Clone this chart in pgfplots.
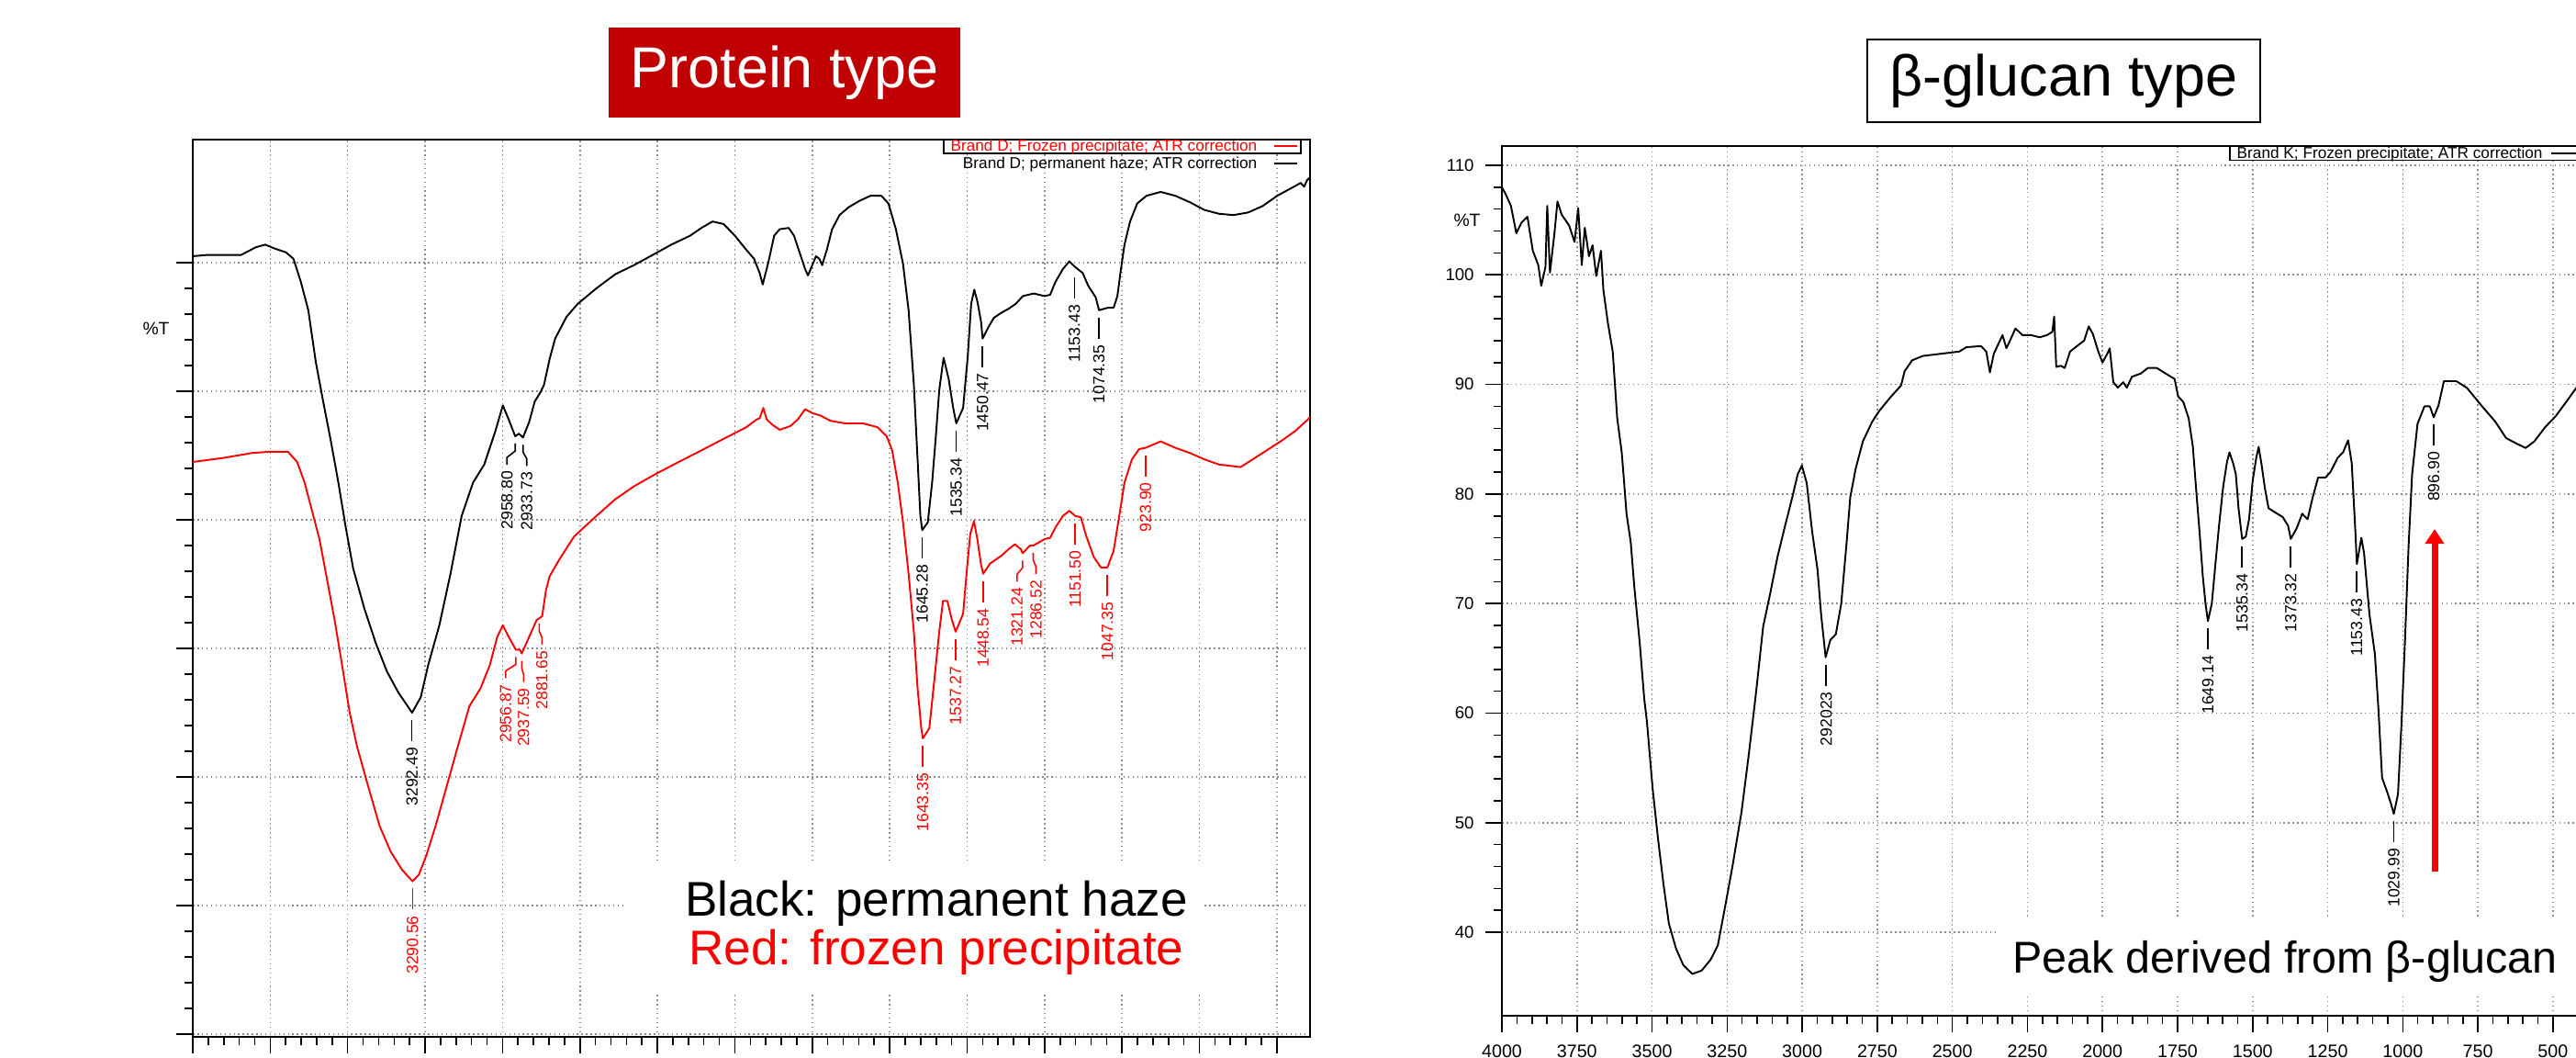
\documentclass[border=0pt]{standalone}
\usepackage{fontspec}
\setmainfont{Liberation Sans}
\usepackage{pgfplots}
\pgfplotsset{compat=1.18}
\usetikzlibrary{arrows.meta}

\definecolor{boxred}{RGB}{192,0,0}
\definecolor{gridgray}{RGB}{140,140,140}

\newcommand{\pkfont}{\fontsize{5pt}{6pt}\selectfont}
\newcommand{\lgfont}{\fontsize{4.9pt}{6pt}\selectfont}
% peak label: wavenumber, value, sideways shift, colour, text
\newcommand{\pk}[5]{%
  \draw[#4, line width=0.45pt] (axis cs:#1,#2) ++(0pt,-0.08cm) -- ++(0pt,-0.08cm)
    -- ++(#3,-0.07cm) -- ++(0pt,-0.08cm)
    node[rotate=90, anchor=east, inner sep=0.06cm, font=\pkfont, text=#4] {#5};}

\pgfplotsset{
  irbase/.style={
    scale only axis, x dir=reverse, xmax=4000,
    axis line style={line width=0.6pt},
    tick align=outside, xtick pos=bottom, ytick pos=left,
    major tick length=0.18cm, minor tick length=0.09cm,
    tick style={black, line width=0.45pt},
    grid=major, major grid style={gridgray, densely dotted, line width=0.45pt},
    xtick={500,750,...,4000}, minor x tick num=4, minor y tick num=4,
    /pgf/number format/assume math mode=true,
    /pgf/number format/1000 sep={},
    every axis plot/.append style={line width=0.55pt, line join=round, mark=none},
  }}

\begin{document}
\begin{tikzpicture}
\useasboundingbox (0,0) rectangle (28.06,-11.52);
\clip (0,0) rectangle (28.06,-11.52);

% ---------------- protein type ----------------
\begin{axis}[irbase, at={(2.10cm,-11.29cm)}, anchor=south west,
  width=12.17cm, height=9.77cm, xmin=393, ymin=-0.21, ymax=69.57,
  ytick={0,10,...,60}, yticklabels={},
  xticklabel style={font=\fontsize{5.6pt}{6pt}\selectfont, yshift=0.06cm}]
\addplot[black] coordinates {
(4000,60.5) (3953,60.6) (3905,60.6) (3844,60.6) (3796,61.2) (3766,61.4) (3736,61.1) (3699,60.8) (3675,60.3)
(3651,58.5) (3627,56.3) (3603,52.3) (3579,49.2) (3554,46.1) (3530,42.9) (3506,39.4) (3482,36.2) (3446,33.1)
(3409,30.4) (3373,28.2) (3337,26.6) (3292,25.0) (3264,26.2) (3240,28.7) (3204,31.8) (3168,35.8) (3132,40.3)
(3095,42.9) (3059,44.3) (3023,46.9) (2999,48.9) (2980,47.8) (2959,46.5) (2947,46.7) (2934,46.4) (2914,47.6)
(2896,49.2) (2878,49.9) (2866,50.5) (2848,52.5) (2830,54.1) (2793,55.8) (2757,56.8) (2697,58.0) (2636,59.1)
(2576,59.8) (2515,60.6) (2455,61.4) (2394,62.1) (2358,62.7) (2322,63.2) (2286,63.0) (2250,62.1) (2213,61.0)
(2188,60.3) (2170,59.2) (2160,58.3) (2141,60.1) (2123,62.1) (2105,62.6) (2076,62.7) (2059,62.1) (2041,60.8)
(2023,59.5) (2014,59.0) (2000,59.8) (1988,60.5) (1977,60.3) (1968,59.8) (1953,61.0) (1936,62.6) (1912,63.7)
(1883,64.3) (1848,64.8) (1812,65.2) (1777,65.2) (1754,64.6) (1730,62.6) (1707,59.9) (1689,56.3) (1672,50.5)
(1660,44.7) (1651,40.3) (1645,39.2) (1627,39.8) (1613,42.9) (1601,46.5) (1590,50.1) (1576,52.6) (1560,51.0)
(1545,48.7) (1535,47.5) (1513,48.7) (1498,52.7) (1487,56.8) (1477,57.9) (1467,57.0) (1455,55.4) (1450,54.1)
(1431,55.0) (1414,55.7) (1390,56.1) (1367,56.4) (1343,56.8) (1320,57.4) (1285,57.6) (1250,57.4) (1232,57.5)
(1215,58.5) (1191,59.5) (1170,60.1) (1153,59.7) (1138,59.4) (1127,59.2) (1109,58.2) (1085,57.3) (1074,56.3)
(1045,56.5) (1027,56.5) (1015,57.4) (1004,59.4) (992,61.4) (974,63.2) (951,64.6) (921,65.2) (875,65.5)
(828,65.2) (781,64.7) (734,64.1) (687,63.8) (640,63.7) (593,63.9) (546,64.4) (499,65.2) (453,65.8)
(423,66.2) (412,65.9) (403,66.4) (395,66.6)};
\addplot[red] coordinates {
(4000,44.5) (3905,44.8) (3808,45.2) (3748,45.3) (3693,45.3) (3663,44.5) (3639,42.9) (3615,40.7) (3591,38.5)
(3566,35.3) (3542,32.2) (3518,28.7) (3494,25.1) (3470,22.4) (3434,19.3) (3397,16.2) (3361,14.2) (3325,12.8)
(3291,11.9) (3270,12.4) (3246,13.9) (3216,16.2) (3180,19.3) (3144,22.4) (3107,25.5) (3071,26.9) (3041,28.7)
(3017,30.9) (2999,31.8) (2980,30.9) (2957,29.9) (2944,29.9) (2938,29.6) (2914,30.9) (2890,32.2) (2872,32.5)
(2860,34.5) (2848,35.6) (2817,36.9) (2769,38.7) (2697,40.3) (2636,41.6) (2576,42.6) (2503,43.6) (2431,44.5)
(2358,45.4) (2286,46.3) (2213,47.2) (2180,47.8) (2170,47.9) (2158,48.7) (2147,47.8) (2129,47.4) (2105,47.0)
(2070,47.3) (2047,47.8) (2023,48.6) (2000,48.3) (1973,48.1) (1941,47.7) (1894,47.5) (1836,47.5) (1789,47.2)
(1760,46.5) (1742,45.4) (1724,42.9) (1707,39.8) (1689,35.8) (1672,31.3) (1660,26.9) (1648,23.8) (1643,23.0)
(1622,23.8) (1607,27.3) (1590,31.3) (1578,33.7) (1564,33.7) (1549,32.2) (1537,31.3) (1513,32.7) (1502,35.8)
(1490,38.9) (1478,39.9) (1467,38.5) (1455,36.5) (1448,35.8) (1426,36.6) (1390,37.2) (1367,37.7) (1346,38.1)
(1326,37.7) (1321,37.4) (1297,38.0) (1286,38.0) (1279,38.1) (1250,38.5) (1232,38.6) (1215,39.4) (1191,40.3)
(1170,40.7) (1151,40.3) (1133,40.2) (1115,38.7) (1091,37.1) (1068,36.3) (1047,36.3) (1027,37.6) (1009,40.3)
(992,42.9) (968,44.7) (945,45.5) (924,45.6) (875,46.1) (828,45.6) (781,45.2) (734,44.7) (687,44.3)
(617,44.1) (546,45.2) (488,46.1) (441,46.9) (400,47.8) (393,48.0)};
% peak labels, black
\pk{3292.49}{25.0}{0cm}{black}{3292.49}
\pk{2958.80}{46.5}{-0.09cm}{black}{2958.80}
\pk{2933.73}{46.4}{0.04cm}{black}{2933.73}
\pk{1645.28}{39.2}{0cm}{black}{1645.28}
\pk{1535.34}{47.5}{0cm}{black}{1535.34}
\pk{1450.47}{54.1}{0cm}{black}{1450.47}
\pk{1153.43}{59.4}{0cm}{black}{1153.43}
\pk{1074.35}{56.3}{0cm}{black}{1074.35}
% peak labels, red
\pk{3290.56}{11.9}{0cm}{red}{3290.56}
\pk{2956.87}{29.9}{-0.11cm}{red}{2956.87}
\pk{2937.59}{29.6}{0.02cm}{red}{2937.59}
\pk{2881.65}{32.5}{0.03cm}{red}{2881.65}
\pk{1643.35}{23.0}{0cm}{red}{1643.35}
\pk{1537.27}{31.3}{0cm}{red}{1537.27}
\pk{1448.54}{35.8}{0cm}{red}{1448.54}
\pk{1321.24}{37.4}{-0.06cm}{red}{1321.24}
\pk{1286.52}{38.0}{0.03cm}{red}{1286.52}
\pk{1151.50}{40.3}{0cm}{red}{1151.50}
\pk{1047.35}{36.3}{0cm}{red}{1047.35}
\pk{923.90}{45.6}{0cm}{red}{923.90}
\end{axis}

% ---------------- beta-glucan type ----------------
\begin{axis}[irbase, at={(16.36cm,-11.06cm)}, anchor=south west,
  width=11.776cm, height=9.47cm, xmin=400, ymin=32.38, ymax=111.76,
  ytick={40,50,...,110},
  xticklabel style={font=\fontsize{5.6pt}{6pt}\selectfont, yshift=-0.01cm},
  yticklabel style={font=\fontsize{5.3pt}{6pt}\selectfont}]
\addplot[black] coordinates {
(4000,108.0) (3988,107.4) (3970,106.3) (3952,103.8) (3934,104.8) (3915,105.3) (3897,102.2) (3879,100.9) (3869,99.0)
(3855,100.7) (3849,106.3) (3840,100.2) (3825,103.8) (3815,106.7) (3801,105.5) (3776,104.5) (3758,103.0) (3746,106.1)
(3734,100.9) (3724,104.3) (3710,101.7) (3698,102.7) (3686,99.9) (3670,102.2) (3662,98.6) (3647,95.6) (3631,93.0)
(3616,86.9) (3601,83.8) (3592,80.7) (3585,78.2) (3571,75.6) (3559,71.5) (3541,66.4) (3526,61.3) (3517,59.2)
(3498,53.1) (3480,48.5) (3462,44.4) (3444,40.8) (3420,38.5) (3396,37.0) (3366,36.2) (3335,36.5) (3305,37.5)
(3281,38.8) (3257,42.3) (3233,45.9) (3202,51.0) (3178,56.2) (3154,61.8) (3130,67.9) (3106,71.0) (3082,74.3)
(3057,77.1) (3033,79.7) (3015,81.8) (3001,82.6) (2985,81.0) (2967,76.6) (2949,73.1) (2937,69.0) (2922,65.1)
(2906,66.7) (2888,67.2) (2870,70.0) (2852,75.6) (2840,79.7) (2822,82.3) (2798,84.8) (2767,86.6) (2743,87.6)
(2707,88.8) (2671,89.9) (2659,91.2) (2634,92.2) (2598,92.6) (2538,92.8) (2477,93.0) (2453,93.4) (2405,93.5)
(2387,93.0) (2375,91.1) (2362,92.8) (2345,93.8) (2333,94.5) (2320,93.3) (2308,94.0) (2290,95.1) (2266,94.5)
(2238,94.5) (2209,94.3) (2185,94.5) (2167,94.8) (2161,96.2) (2154,91.6) (2138,91.7) (2126,91.5) (2108,93.0)
(2085,93.5) (2061,94.0) (2046,95.3) (2032,94.6) (2014,93.0) (2000,92.0) (1984,92.8) (1976,93.3) (1964,90.2)
(1949,89.7) (1931,90.2) (1919,89.7) (1902,90.7) (1872,91.0) (1849,91.5) (1819,91.5) (1790,91.0) (1760,90.5)
(1748,88.9) (1731,88.4) (1713,86.9) (1699,84.3) (1689,80.7) (1677,76.6) (1666,72.5) (1657,70.0) (1649,68.4)
(1636,70.0) (1624,73.6) (1612,77.1) (1598,80.7) (1585,83.0) (1577,83.8) (1565,82.8) (1556,81.8) (1547,78.7)
(1535,75.9) (1523,76.1) (1512,77.7) (1500,81.2) (1488,83.3) (1480,84.3) (1471,82.8) (1459,80.5) (1447,78.7)
(1424,78.3) (1400,77.9) (1382,77.1) (1373,75.9) (1353,76.9) (1335,78.2) (1317,77.7) (1300,79.7) (1282,81.5)
(1258,81.5) (1241,82.0) (1217,83.3) (1199,83.8) (1182,84.9) (1170,82.8) (1158,76.6) (1153,73.6) (1138,76.0)
(1129,74.6) (1111,69.0) (1093,65.4) (1081,60.3) (1069,54.1) (1052,52.8) (1040,51.8) (1030,50.8) (1016,52.6)
(1005,58.7) (993,66.4) (981,75.1) (969,81.8) (951,86.4) (928,88.0) (910,88.0) (897,87.0) (881,88.1)
(863,90.3) (822,90.3) (787,89.7) (739,88.1) (692,86.6) (656,85.1) (621,84.6) (591,84.2) (562,84.8)
(526,86.1) (491,87.1) (456,88.4) (422,89.7) (400,90.8)};
\pk{2920.23}{65.1}{0cm}{black}{292023}
\pk{1649.14}{68.4}{0cm}{black}{1649.14}
\pk{1535.34}{75.9}{0cm}{black}{1535.34}
\pk{1373.32}{75.9}{0cm}{black}{1373.32}
\pk{1153.43}{73.6}{0cm}{black}{1153.43}
\pk{1029.99}{50.8}{0cm}{black}{1029.99}
\pk{896.90}{87.0}{0cm}{black}{896.90}
\draw[red, line width=2pt, -{Triangle[length=0.16cm, width=0.2cm]}]
  (axis cs:894,45.5) -- (axis cs:894,76.8);
\end{axis}

% titles
\node[fill=boxred, text=white, minimum width=3.83cm, minimum height=0.98cm, inner sep=0,
  font=\fontsize{17.9pt}{20pt}\selectfont] at (8.545,-0.79) {Protein type};
\node[draw=black, line width=0.55pt, fill=white, minimum width=4.28cm, minimum height=0.90cm, inner sep=0,
  font=\fontsize{17.9pt}{20pt}\selectfont] at (22.48,-0.88) {β-glucan type};

% %T labels
\node[font=\fontsize{5.5pt}{6pt}\selectfont] at (1.70,-3.58) {\%T};
\node[font=\fontsize{5.5pt}{6pt}\selectfont] at (15.98,-2.40) {\%T};

% legends
\draw[line width=0.5pt, fill=white] (10.28,-1.52) rectangle (14.17,-1.67);
\node[anchor=base east, inner sep=0, text=red, font=\lgfont] at (13.70,-1.645) {Brand D; Frozen precipitate; ATR correction};
\draw[red, line width=0.6pt] (13.88,-1.59) -- (14.13,-1.59);
\node[anchor=base east, inner sep=0, font=\lgfont] at (13.70,-1.83) {Brand D; permanent haze; ATR correction};
\draw[black, line width=0.6pt] (13.88,-1.78) -- (14.13,-1.78);
\draw[line width=0.5pt, fill=white] (24.29,-1.59) rectangle (28.12,-1.745);
\node[anchor=base west, inner sep=0, font=\lgfont] at (24.36,-1.72) {Brand K; Frozen precipitate; ATR correction};
\draw[black, line width=0.6pt] (27.79,-1.67) -- (28.06,-1.67);

% annotation boxes
\fill[white] (6.82,-9.39) rectangle (13.12,-10.81);
\node[anchor=base, inner sep=0, font=\fontsize{15.1pt}{17pt}\selectfont] at (10.20,-9.97) {Black: permanent haze};
\node[anchor=base, inner sep=0, text=red, font=\fontsize{15.1pt}{17pt}\selectfont] at (10.20,-10.50) {Red: frozen precipitate};
\fill[white] (21.76,-9.98) rectangle (28.06,-10.81);
\node[anchor=base, inner sep=0, font=\fontsize{13.8pt}{16pt}\selectfont] at (24.89,-10.59) {Peak derived from β-glucan};
\end{tikzpicture}
\end{document}
